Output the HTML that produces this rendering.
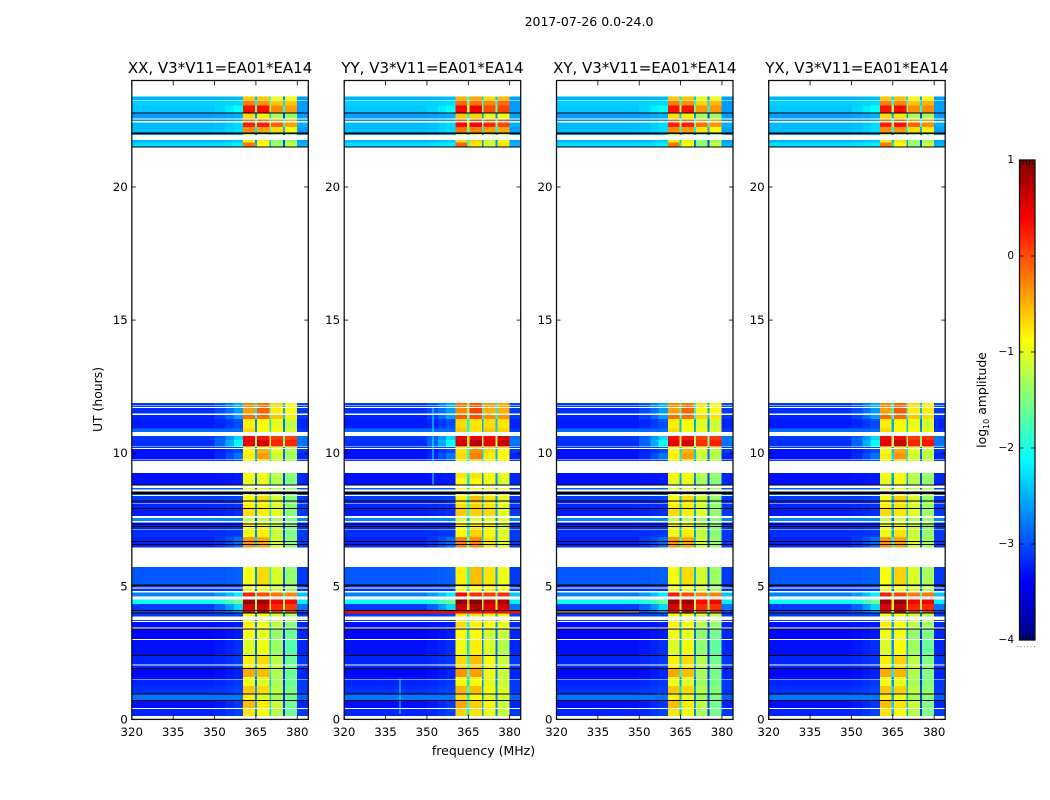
<!DOCTYPE html>
<html lang="en">
<head>
<meta charset="utf-8">
<title>2017-07-26 spectrogram</title>
<style>
html,body{margin:0;padding:0;background:#fff;}
#figure{display:block;width:1050px;height:800px;}
text{font-family:"DejaVu Sans","Liberation Sans",sans-serif;fill:#000;}
</style>
</head>
<body>
<svg id="figure" xmlns="http://www.w3.org/2000/svg" width="1050" height="800" viewBox="0 0 1050 800">
  <rect x="0" y="0" width="1050" height="800" fill="#fff"/>
  <text x="589" y="26" font-size="12.5" text-anchor="middle">2017-07-26 0.0-24.0</text>
  <text x="483.5" y="755" font-size="12.5" text-anchor="middle">frequency (MHz)</text>
  <text x="102" y="399.5" font-size="12.4" text-anchor="middle" transform="rotate(-90 102 399.5)">UT (hours)</text>
  <g id="panels"></g>
  <g id="colorbar"></g>
  <text x="986" y="400" font-size="12.4" text-anchor="middle" transform="rotate(-90 986 400)">log<tspan font-size="8" dy="3">10</tspan><tspan dy="-3"> amplitude</tspan></text>
</svg>
<script>
// ---------- chart data ----------
const panelTitles = ['XX, V3*V11=EA01*EA14', 'YY, V3*V11=EA01*EA14', 'XY, V3*V11=EA01*EA14', 'YX, V3*V11=EA01*EA14'];
const xTickValues = [320, 335, 350, 365, 380];
const yTickValues = [0, 5, 10, 15, 20];
const colorbarTicks = [1, 0, -1, -2, -3, -4];

// Observed time rows (UT hours); anything not listed is unobserved (white).
const rowStart = [23.40,23.24,23.06,22.76,22.53,22.42,22.26,21.99,21.77,21.67,
  11.88,11.78,11.70,11.43,11.28,10.93,10.65,10.49,10.23,10.15,10.00,9.74,
  9.25,9.06,8.70,8.46,8.40,8.20,8.11,7.92,7.57,7.40,7.14,6.85,
  5.73,5.02,4.91,4.77,4.51,4.33,4.08,3.98,3.73,3.65,3.39,2.99,2.38,2.03,1.89,1.60,1.49,1.25,0.94,0.69,0.39];
const rowEnd = [23.26,23.06,22.80,22.57,22.47,22.26,22.05,21.96,21.67,21.52,
  11.80,11.73,11.50,11.28,10.93,10.80,10.49,10.26,10.19,10.00,9.77,9.71,
  9.06,8.83,8.64,8.43,8.22,8.13,7.95,7.65,7.45,7.16,6.85,6.45,
  5.06,4.96,4.83,4.61,4.33,4.11,3.98,3.86,3.69,3.46,3.02,2.41,2.07,1.93,1.60,1.52,1.25,0.98,0.73,0.42,0.13];
// log10 amplitude per row: [below 350 MHz, ramp, block A, block B, block C, block D, above 380 MHz]
const rowLevels = [
  [-2.5,-2.45,-.6,-.6,-1,-1,-2.6],[-2.35,-2.3,-.25,-.35,-.6,-.6,-2.6],[-2.4,-2.1,.3,.3,-.3,-.4,-2.6],
  [-2.6,-2.5,-.7,-.8,-1.3,-1.4,-2.6],[-2.7,-2.6,-.2,-.2,-.4,-.5,-2.7],[-2.45,-2.3,.25,.25,-.1,-.4,-2.5],
  [-2.45,-2.3,-.3,-.4,-.7,-.9,-2.6],[-2.7,-2.6,-1.2,-1.3,-1.5,-1.5,-2.7],[-2.5,-2.4,-.8,-.8,-1.4,-1.4,-2.6],
  [-2.3,-2.2,-.2,-.9,-1.4,-1.2,-2.5],
  [-3.1,-2.5,-.3,-.2,-.7,-.9,-3],[-3.1,-2.5,-.3,-.2,-.7,-.9,-3],[-3.15,-2.6,-.4,-.1,-.8,-.9,-3.1],
  [-3.2,-2.6,-.15,-.15,-.6,-.8,-3.1],[-3.25,-3.0,-.8,-.9,-1,-1.2,-3.2],[-2.85,-2.85,-.7,-.9,-.9,-1.1,-3.1],
  [-3.1,-2.3,.35,.3,.1,.05,-2.8],[-3.15,-2.1,.5,.6,.2,.2,-2.8],[-3.1,-3.0,-.9,-.9,-1,-1.2,-3.1],
  [-3.3,-3.0,-.85,-.5,-1,-1.3,-3.1],[-3.3,-2.8,-.8,-.4,-1.1,-1.3,-3.2],[-3.1,-3.05,-1,-1,-1.1,-1.3,-3.1],
  [-3.3,-3.25,-.85,-.9,-1.2,-1.45,-3.2],[-3.3,-3.25,-1,-1,-1.25,-1.5,-3.2],[-2.9,-2.9,-1,-1,-1.2,-1.4,-3],
  [-3,-3,-1,-1,-1.2,-1.4,-3],[-3.1,-3.05,-.9,-.7,-1.05,-1.45,-3.1],[-3.2,-3.15,-.85,-.8,-1.05,-1.45,-3.1],
  [-3.2,-3.15,-.8,-.8,-1.05,-1.45,-3.1],[-3.25,-3.15,-.7,-.8,-1,-1.45,-3.1],[-2.7,-2.7,-1.2,-1.2,-1.3,-1.5,-2.7],
  [-3.2,-3.15,-.95,-.95,-1.15,-1.5,-3.1],[-3.15,-3.1,-.95,-.8,-1.15,-1.5,-3.1],[-3.2,-2.85,-.35,-.45,-1.05,-1.45,-3.1],
  [-2.95,-2.9,-.9,-.7,-1.05,-1.4,-3.1],[-3.1,-3.05,-1,-1,-1.1,-1.4,-3.1],[-3.1,-3.05,-1,-1,-1.1,-1.4,-3.1],
  [-2.75,-2.2,.25,0,-.2,-.3,-2.4],[-2.1,-1.6,.85,.85,.4,.35,-2.2],[-3.1,-2.3,.55,.6,.2,.1,-2.8],
  [-3,-2.6,.5,.7,.1,.05,-3],[-3.1,-3.05,-.9,-.9,-1.1,-1.3,-3.1],[-3.1,-3.05,-.9,-.9,-1.1,-1.3,-3.1],
  [-3.3,-3.25,-.8,-.95,-1.2,-1.45,-3.2],[-3.35,-3.25,-.95,-1,-1.4,-1.6,-3.2],[-3.3,-3.15,-1.05,-.95,-1.35,-1.7,-3.2],
  [-3.2,-3.1,-.8,-.7,-1.2,-1.6,-3.1],[-3.2,-3.1,-.8,-.8,-1.2,-1.55,-3.1],[-3.35,-3.2,-.45,-.55,-1.25,-1.6,-3.2],
  [-3.3,-3.2,-1,-1,-1.3,-1.6,-3.2],[-3.2,-3.1,-.95,-1.05,-1.3,-1.6,-3.1],[-3.15,-3.05,-.6,-.7,-1.2,-1.5,-3.1],[-2.8,-2.8,-.8,-1,-1.3,-1.55,-2.9],
  [-3.3,-3.1,-.55,-.8,-1.15,-1.6,-3.2],[-3.2,-3.05,-.75,-.9,-1.25,-1.6,-3.1]
];
// Per-panel offsets added to rowLevels, same column order.
const panelOffsets = [
  [0,0,0,0,0,0,0],
  [0,0,.1,.15,.3,.45,0],
  [0,0,0,.0,-.05,.05,0],
  [0,0,0,.05,.0,.1,0]
];
// Depth of the narrow dips between the blocks, per panel.
const gapDepths = [[1.9,1.3,1.7],[1.4,1.8,1.7],[1.6,1.6,1.7],[1.7,1.5,1.7]];
// Fully flagged (black) rows, common to all panels.
const flagStart = [22.80,22.05,21.52,8.83,8.57,8.22,7.95,7.36,7.26,6.70,6.58,5.06,4.11,4.02,3.42,2.41,1.93,0.98,0.73];
const flagEnd = [22.76,21.99,21.49,8.79,8.46,8.20,7.92,7.33,7.23,6.67,6.56,5.02,4.08,3.98,3.39,2.38,1.89,0.94,0.69];
// Strong interference rows in individual panels.
const rfiPanel = [1, 2];
const rfiStart = [4.08, 4.06];
const rfiEnd = [3.98, 4.02];
const rfiLevel = [0.35, -0.4];
const rfiStopMHz = [384, 350];
// Narrow interference channels in individual panels.
const lineMHz = [352, 340];
const linePanel = [1, 1];
const lineStart = [11.7, 1.5];
const lineEnd = [8.8, 0.2];
const lineLevel = [-2.0, -2.1];

// ---------- layout and scales ----------
const NS = 'http://www.w3.org/2000/svg';
const panelLefts = [131.8, 344.2, 556.5, 768.7];
const panelWidth = 176.5, panelTop = 80.5, panelBottom = 719.4;
const freqMin = 320, freqMax = 384, timeMin = 0, timeMax = 24;
const levelMin = -4, levelMax = 1;
const barLeft = 1019.5, barWidth = 15.5, barTop = 160, barBottom = 640;

function xScale(p, mhz) { return panelLefts[p] + (mhz - freqMin) / (freqMax - freqMin) * panelWidth; }
function yScale(hours) { return panelBottom - (hours - timeMin) / (timeMax - timeMin) * (panelBottom - panelTop); }
function barScale(level) { return barBottom - (level - levelMin) / (levelMax - levelMin) * (barBottom - barTop); }
function jet(level) {
  const t = Math.min(1, Math.max(0, (level - levelMin) / (levelMax - levelMin)));
  const c = k => Math.round(255 * Math.min(1, Math.max(0, Math.min(4 * t - k + 0.5, -4 * t + k + 2.5))));
  return 'rgb(' + c(2) + ',' + c(1) + ',' + c(0) + ')';
}
function make(tag, parent, props, text) {
  const el = document.createElementNS(NS, tag);
  for (const k in props) el.setAttribute(k, props[k]);
  if (text !== undefined) el.textContent = text;
  parent.appendChild(el);
  return el;
}

// Frequency columns: which level each one reads from rowLevels.
function columnLevels(p, levels) {
  const off = panelOffsets[p];
  const v = levels.map((x, i) => x + off[i]);
  const g = gapDepths[p];
  const dip = (a, b, d) => Math.max(-3.5, (a + b) / 2 - d);
  return [
    [320, 350, v[0]],
    [350, 354, v[0] + (v[1] - v[0]) * 0.25],
    [354, 357, v[0] + (v[1] - v[0]) * 0.6],
    [357, 360.4, v[1]],
    [360.4, 364.6, v[2]],
    [364.6, 365.4, dip(v[2], v[3], g[0])],
    [365.4, 369.9, v[3]],
    [369.9, 370.5, dip(v[3], v[4], g[1])],
    [370.5, 374.8, v[4]],
    [374.8, 375.5, dip(v[4], v[5], g[2])],
    [375.5, 379.9, v[5]],
    [379.9, 384, v[6]]
  ];
}

// ---------- panels ----------
const panelsRoot = document.getElementById('panels');
panelTitles.forEach(function (title, p) {
  const group = make('g', panelsRoot, {});
  
  

  rowStart.forEach(function (t0, r) {
    const y0 = yScale(t0), y1 = yScale(rowEnd[r]);
    columnLevels(p, rowLevels[r]).forEach(function (col) {
      const cell = make('rect', group, {
        x: xScale(p, col[0]), y: y0,
        width: xScale(p, col[1]) - xScale(p, col[0]), height: y1 - y0,
        fill: jet(col[2]), 'shape-rendering': 'crispEdges'
      });
      
      
    });
    lineMHz.forEach(function (mhz, i) {
      if (linePanel[i] !== p) return;
      const top = Math.min(t0, lineStart[i]), bottom = Math.max(rowEnd[r], lineEnd[i]);
      if (top <= bottom) return;
      const channel = make('rect', group, {
        x: xScale(p, mhz), y: yScale(top), width: 1, height: yScale(bottom) - yScale(top),
        fill: jet(lineLevel[i]), 'shape-rendering': 'crispEdges'
      });
      
      
    });
  });

  flagStart.forEach(function (t0, i) {
    const flag = make('rect', group, {
      x: xScale(p, freqMin), y: yScale(t0), width: panelWidth,
      height: Math.max(1, yScale(flagEnd[i]) - yScale(t0)), fill: '#000', 'shape-rendering': 'crispEdges'
    });
    
    
  });

  rfiPanel.forEach(function (rp, i) {
    if (rp !== p) return;
    const rfi = make('rect', group, {
      x: xScale(p, freqMin), y: yScale(rfiStart[i]),
      width: xScale(p, rfiStopMHz[i]) - xScale(p, freqMin),
      height: yScale(rfiEnd[i]) - yScale(rfiStart[i]), fill: jet(rfiLevel[i]), 'shape-rendering': 'crispEdges'
    });
    
    
  });

  const frame = make('rect', group, {
    x: panelLefts[p], y: panelTop, width: panelWidth, height: panelBottom - panelTop,
    fill: 'none', stroke: '#111', 'stroke-width': 1.3
  });
  
  

  xTickValues.forEach(function (value) {
    const x = xScale(p, value);
    const tickTop = make('line', group, { x1: x, x2: x, y1: panelTop, y2: panelTop + 5, stroke: '#000', 'stroke-width': 0.8 });
    
    
    const tickBottom = make('line', group, { x1: x, x2: x, y1: panelBottom, y2: panelBottom - 5, stroke: '#000', 'stroke-width': 0.8 });
    
    
    const label = make('text', group, { x: x, y: 736, 'font-size': 11.8, 'text-anchor': 'middle' }, String(value));
    
    
  });

  yTickValues.forEach(function (value) {
    const y = yScale(value);
    const tickLeft = make('line', group, { x1: panelLefts[p], x2: panelLefts[p] + 4, y1: y, y2: y, stroke: '#000', 'stroke-width': 0.8 });
    
    
    const tickRight = make('line', group, { x1: panelLefts[p] + panelWidth, x2: panelLefts[p] + panelWidth - 4, y1: y, y2: y, stroke: '#000', 'stroke-width': 0.8 });
    
    
    const label = make('text', group, { x: panelLefts[p] - 4, y: y + 4, 'font-size': 11.8, 'text-anchor': 'end' }, String(value));
    
    
  });

  const heading = make('text', group, { x: panelLefts[p] + panelWidth / 2, y: 73, 'font-size': 15, 'text-anchor': 'middle' }, title);
  
  
});

// ---------- colorbar ----------
const barRoot = document.getElementById('colorbar');
for (let py = barTop; py < barBottom; py += 2) {
  const level = levelMax - (py + 1 - barTop) / (barBottom - barTop) * (levelMax - levelMin);
  const strip = make('rect', barRoot, { x: barLeft, y: py, width: barWidth, height: 2, fill: jet(level), 'shape-rendering': 'crispEdges' });
  
  
}
const barFrame = make('rect', barRoot, { x: barLeft, y: barTop, width: barWidth, height: barBottom - barTop, fill: 'none', stroke: '#111', 'stroke-width': 1.3 });


colorbarTicks.forEach(function (value) {
  const y = barScale(value);
  const left = make('line', barRoot, { x1: barLeft, x2: barLeft + 4, y1: y, y2: y, stroke: '#000', 'stroke-width': 0.8 });
  
  
  const right = make('line', barRoot, { x1: barLeft + barWidth, x2: barLeft + barWidth - 4, y1: y, y2: y, stroke: '#000', 'stroke-width': 0.8 });
  
  
  const label = make('text', barRoot, { x: 1014, y: y + 3, 'font-size': 10.5, 'text-anchor': 'end' }, String(value).replace('-', '\u2212'));
  
  
});
[3.5, 6.9, 10.2, 13.1].forEach(function (dx) {
  const topMark = make('line', barRoot, { x1: barLeft + dx, x2: barLeft + dx, y1: barTop, y2: barTop + 5, stroke: '#000', 'stroke-width': 0.7 });
  
  
  const bottomMark = make('line', barRoot, { x1: barLeft + dx, x2: barLeft + dx, y1: barBottom, y2: barBottom - 5, stroke: '#000', 'stroke-width': 0.7 });
  
  
});
const barDots = make('line', barRoot, { x1: 1017, x2: 1035, y1: 646.5, y2: 646.5, stroke: '#888', 'stroke-width': 1, 'stroke-dasharray': '1 2.4' });


</script>
</body>
</html>
